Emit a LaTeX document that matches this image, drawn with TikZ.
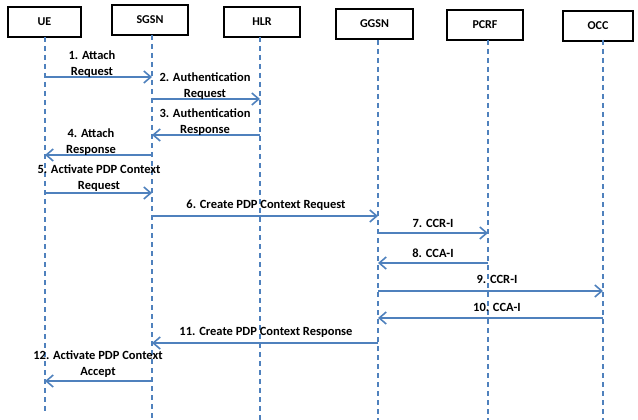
\documentclass[tikz,border=0pt]{standalone}
\usepackage{fontspec}
\setmainfont{Carlito}
\usetikzlibrary{arrows.meta}
\definecolor{lineblue}{RGB}{79,129,189}
\begin{document}
\begin{tikzpicture}[x=1pt,y=-1pt,
  ent/.style={draw=black,line width=2.8pt,fill=white,minimum height=30pt,inner sep=0pt,font=\bfseries\fontsize{12}{14}\selectfont},
  life/.style={draw=lineblue,line width=1.3pt,dash pattern=on 5pt off 4pt},
  msg/.style={draw=lineblue,line width=1.6pt,-{Straight Barb[length=7pt,width=12pt,line width=1.6pt]}},
  lbl/.style={align=center,inner sep=0pt,font=\bfseries\fontsize{12.5}{15.5}\selectfont}]
\useasboundingbox (0,0) rectangle (638,420);
% entities
\node[ent,minimum width=73pt] (ue)   at (44.5,22) {UE};
\node[ent,minimum width=76pt] (sgsn) at (150,20) {SGSN};
\node[ent,minimum width=76pt] (hlr)  at (262,22) {HLR};
\node[ent,minimum width=77pt] (ggsn) at (374.5,24) {GGSN};
\node[ent,minimum width=76pt] (pcrf) at (485,25) {PCRF};
\node[ent,minimum width=70pt] (occ)  at (598,26) {OCC};
% lifelines
\coordinate (ueT) at (45,37);   \coordinate (ueB) at (45,414);
\coordinate (sgT) at (152,35);  \coordinate (sgB) at (152,420);
\coordinate (hlT) at (260,37);  \coordinate (hlB) at (260,420);
\coordinate (ggT) at (378,40);  \coordinate (ggB) at (378,420);
\coordinate (pcT) at (488,40);  \coordinate (pcB) at (488,420);
\coordinate (ocT) at (603,40);  \coordinate (ocB) at (603,420);
\foreach \a/\b in {ueT/ueB,sgT/sgB,hlT/hlB,ggT/ggB,pcT/pcB,ocT/ocB}
  \draw[life] (\a) -- (\b);
% message levels
\coordinate (m1) at (0,77);  \coordinate (m2) at (0,99);
\coordinate (m3) at (0,135); \coordinate (m4) at (0,155);
\coordinate (m5) at (0,193); \coordinate (m6) at (0,216);
\coordinate (m7) at (0,233); \coordinate (m8) at (0,263);
\coordinate (m9) at (0,291); \coordinate (m10) at (0,318);
\coordinate (m11) at (0,343); \coordinate (m12) at (0,381);
% messages
\draw[msg] (ueT |- m1) -- (sgT |- m1);
\draw[msg] (sgT |- m2) -- (hlT |- m2);
\draw[msg] (hlT |- m3) -- (sgT |- m3);
\draw[msg] (sgT |- m4) -- (ueT |- m4);
\draw[msg] (ueT |- m5) -- (sgT |- m5);
\draw[msg] (sgT |- m6) -- (ggT |- m6);
\draw[msg] (ggT |- m7) -- (pcT |- m7);
\draw[msg] (pcT |- m8) -- (ggT |- m8);
\draw[msg] (ggT |- m9) -- (ocT |- m9);
\draw[msg] (ocT |- m10) -- (ggT |- m10);
\draw[msg] (ggT |- m11) -- (sgT |- m11);
\draw[msg] (sgT |- m12) -- (ueT |- m12);
% labels
\node[lbl] (l1) at (92,64) {1. Attach\\Request};
\node[lbl] (l2) at (205,86) {2. Authentication\\Request};
\node[lbl] (l3) at (205,122) {3. Authentication\\Response};
\node[lbl] (l4) at (91,142) {4. Attach\\Response};
\node[lbl] (l5) at (99,178) {5. Activate PDP Context\\Request};
\node[lbl] (l6) at (266,205) {6. Create PDP Context Request};
\node[lbl] (l7) at (433,223) {7. CCR-I};
\node[lbl] (l8) at (433,253) {8. CCA-I};
\node[lbl] (l9) at (497,279) {9. CCR-I};
\node[lbl] (l10) at (497,307) {10. CCA-I};
\node[lbl] (l11) at (266,332) {11. Create PDP Context Response};
\node[lbl] (l12) at (98,364) {12. Activate PDP Context\\Accept};
\end{tikzpicture}
\end{document}
